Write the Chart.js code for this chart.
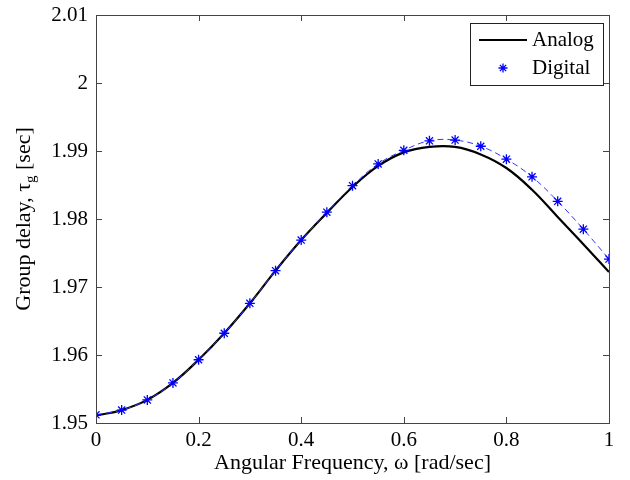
<!DOCTYPE html>
<html>
<head>
<meta charset="utf-8">
<script src="https://cdn.jsdelivr.net/npm/chart.js@4"></script>
<style>
  html, body { margin: 0; padding: 0; background: #fff; }
  #wrap { width: 630px; height: 480px; }
</style>
</head>
<body>
<div id="wrap"><canvas id="c" width="630" height="480"></canvas></div>
<script>
// 頻率 (rad/sec)
const omega = [0, 0.05, 0.1, 0.15, 0.2, 0.25, 0.3, 0.35, 0.4, 0.45, 0.5,
               0.55, 0.6, 0.65, 0.7, 0.75, 0.8, 0.85, 0.9, 0.95, 1.0];
// 類比群延遲
const analog = [1.9511, 1.9519, 1.9534, 1.9559, 1.9593, 1.9632, 1.9676, 1.9724, 1.9769, 1.9809, 1.9847,
                1.9878, 1.9898, 1.9906, 1.9906, 1.9895, 1.9875, 1.9843, 1.9803, 1.9763, 1.9722];
// 數位群延遲
const digital = [1.9512, 1.9519, 1.9534, 1.9559, 1.9593, 1.9632, 1.9676, 1.9724, 1.9769, 1.9810, 1.9849,
                 1.9881, 1.9901, 1.9915, 1.9916, 1.9907, 1.9888, 1.9862, 1.9826, 1.9785, 1.9741];
const xTicks = [0, 0.2, 0.4, 0.6, 0.8, 1];
const yTicks = [1.95, 1.96, 1.97, 1.98, 1.99, 2, 2.01];
const labels = ['Analog', 'Digital'];

const FONT = '"Liberation Serif", "Times New Roman", serif';

// 外框 + 向內刻度 + 圖例 + y軸標題
const framePlugin = {
  id: 'frame',
  afterDraw(chart) {
    const ctx = chart.ctx, a = chart.chartArea;
    const xs = chart.scales.x, ys = chart.scales.y;
    ctx.save();
    ctx.strokeStyle = '#444';
    ctx.lineWidth = 1;
    ctx.strokeRect(a.left + 0.5, a.top + 0.5, a.right - a.left, a.bottom - a.top);
    ctx.beginPath();
    xTicks.forEach(v => {
      const px = Math.round(xs.getPixelForValue(v)) + 0.5;
      ctx.moveTo(px, a.bottom); ctx.lineTo(px, a.bottom - 6);
      ctx.moveTo(px, a.top); ctx.lineTo(px, a.top + 6);
    });
    yTicks.forEach(v => {
      const py = Math.round(ys.getPixelForValue(v)) + 0.5;
      ctx.moveTo(a.left, py); ctx.lineTo(a.left + 6, py);
      ctx.moveTo(a.right, py); ctx.lineTo(a.right - 6, py);
    });
    ctx.stroke();

    // 圖例
    const lx = 470, ly = 23, lw = 133, lh = 62;
    ctx.fillStyle = '#fff';
    ctx.fillRect(lx, ly, lw, lh);
    ctx.strokeStyle = '#222';
    ctx.strokeRect(lx + 0.5, ly + 0.5, lw, lh);
    ctx.font = '21px ' + FONT;
    ctx.fillStyle = '#000';
    ctx.textBaseline = 'middle';
    ctx.textAlign = 'left';
    ctx.fillText(labels[0], 532, 40);
    ctx.fillText(labels[1], 532, 68);
    ctx.strokeStyle = '#000';
    ctx.lineWidth = 2;
    ctx.beginPath(); ctx.moveTo(479, 40); ctx.lineTo(527, 40); ctx.stroke();
    ctx.strokeStyle = '#0000ff';
    ctx.lineWidth = 1.3;
    ctx.beginPath();
    const cx = 503, cy = 68, r = 4.5;
    ctx.moveTo(cx - r, cy); ctx.lineTo(cx + r, cy);
    ctx.moveTo(cx, cy - r); ctx.lineTo(cx, cy + r);
    ctx.moveTo(cx - r * 0.7, cy - r * 0.7); ctx.lineTo(cx + r * 0.7, cy + r * 0.7);
    ctx.moveTo(cx - r * 0.7, cy + r * 0.7); ctx.lineTo(cx + r * 0.7, cy - r * 0.7);
    ctx.stroke();

    // y軸標題（下標 g）
    ctx.translate(24, (a.top + a.bottom) / 2);
    ctx.rotate(-Math.PI / 2);
    ctx.fillStyle = '#000';
    ctx.textBaseline = 'middle';
    ctx.font = '22px ' + FONT;
    const p1 = 'Group delay, \u03C4', p2 = 'g', p3 = ' [sec]';
    const w1 = ctx.measureText(p1).width;
    ctx.font = '15px ' + FONT;
    const w2 = ctx.measureText(p2).width;
    ctx.font = '22px ' + FONT;
    const w3 = ctx.measureText(p3).width;
    let x0 = -(w1 + w2 + w3) / 2;
    ctx.textAlign = 'left';
    ctx.fillText(p1, x0, 0);
    ctx.font = '15px ' + FONT;
    ctx.fillText(p2, x0 + w1, 7);
    ctx.font = '22px ' + FONT;
    ctx.fillText(p3, x0 + w1 + w2, 0);
    ctx.restore();
  }
};

new Chart(document.getElementById('c'), {
  type: 'line',
  data: {
    datasets: [
      {
        label: labels[0],
        data: omega.map((x, i) => ({ x, y: analog[i] })),
        borderColor: '#000',
        borderWidth: 2.2,
        pointRadius: 0,
        tension: 0.4,
        order: 2
      },
      {
        label: labels[1],
        data: omega.map((x, i) => ({ x, y: digital[i] })),
        borderColor: '#3333ff',
        borderWidth: 1,
        borderDash: [6, 4],
        pointStyle: 'star',
        pointRadius: 5,
        pointBorderColor: '#0000ff',
        pointBackgroundColor: '#0000ff',
        pointBorderWidth: 1.3,
        tension: 0.4,
        order: 1
      }
    ]
  },
  options: {
    responsive: false,
    animation: false,
    layout: { padding: { left: 0, right: 21, top: 15, bottom: 0 } },
    plugins: { legend: { display: false }, tooltip: { enabled: false } },
    scales: {
      x: {
        type: 'linear',
        min: 0, max: 1,
        afterBuildTicks: s => { s.ticks = xTicks.map(v => ({ value: v })); },
        afterFit: s => { s.height = 57; s.paddingLeft = 0; s.paddingRight = 0; },
        grid: { display: false, drawTicks: false },
        border: { display: false },
        ticks: {
          color: '#000',
          font: { family: FONT, size: 21 },
          padding: 5,
          maxRotation: 0,
          callback: v => String(v)
        },
        title: {
          display: true,
          text: 'Angular Frequency, \u03C9 [rad/sec]',
          color: '#000',
          font: { family: FONT, size: 22 },
          padding: { top: 0 }
        }
      },
      y: {
        type: 'linear',
        min: 1.95, max: 2.01,
        afterBuildTicks: s => { s.ticks = yTicks.map(v => ({ value: v })); },
        afterFit: s => { s.width = 96; s.paddingTop = 0; s.paddingBottom = 0; },
        grid: { display: false, drawTicks: false },
        border: { display: false },
        ticks: {
          color: '#000',
          font: { family: FONT, size: 21 },
          padding: 8,
          callback: v => String(parseFloat(v.toFixed(2)))
        }
      }
    }
  },
  plugins: [framePlugin]
});
</script>
</body>
</html>
